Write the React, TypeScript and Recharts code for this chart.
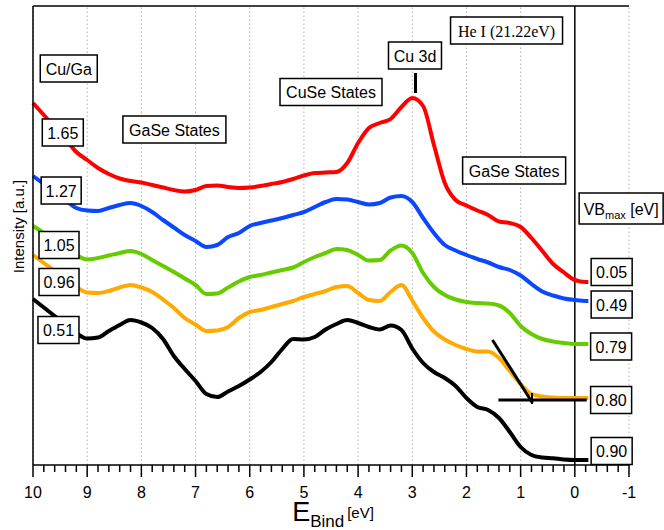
import React from "react";
import { LineChart, Line, XAxis, YAxis, ReferenceLine, ReferenceDot } from "recharts";

// binding energy grid [eV]
const energies = [
  10.0, 9.8, 9.6, 9.4, 9.2, 9.0, 8.8, 8.6, 8.4, 8.2, 8.0, 7.8, 7.6, 7.4, 7.2, 7.0, 6.8, 6.6,
  6.4, 6.2, 6.0, 5.8, 5.6, 5.4, 5.2, 5.0, 4.8, 4.6, 4.4, 4.2, 4.0, 3.8, 3.6, 3.4, 3.2, 3.0,
  2.8, 2.6, 2.4, 2.2, 2.0, 1.8, 1.6, 1.4, 1.2, 1.0, 0.8, 0.6, 0.4, 0.2, 0.0, -0.2, -0.25,
];

// He I spectra, offset intensity [a.u.], one per Cu/Ga ratio
const cuGa165 = [
  362, 350, 338, 326, 313, 305, 297, 291, 286.5, 284, 282.5, 280, 277.5, 275, 273.5, 275, 279, 279.5,
  278, 277, 277.5, 279, 281, 283, 286, 289.5, 292, 292.5, 293, 302, 322, 337, 342, 346, 358, 367,
  359, 320, 282, 265, 259.5, 254.5, 250, 243.5, 242, 238, 227, 214, 201, 192.5, 185, 183, 183,
];
const cuGa127 = [
  289, 281, 273, 265, 257, 254.5, 254, 257, 260, 262, 259, 253, 245, 237.5, 230, 224, 218, 220,
  228, 232, 239, 242, 244.5, 247, 250, 253, 258, 263, 266, 265.5, 263, 260.5, 262, 267.5, 269, 263,
  247, 232, 220, 214.5, 210, 206, 202.5, 198, 195, 189.5, 181, 173.5, 169.5, 166.5, 165, 164, 164,
];
const cuGa105 = [
  239, 232, 224.5, 217, 210, 205.5, 207, 209.5, 212, 214, 211, 205, 199, 193, 186.5, 180, 171, 171.5,
  177.5, 183.5, 188, 190, 192.5, 195, 197.5, 203, 208, 212, 216, 215, 210, 204.5, 205, 214.5, 219.5, 212,
  192, 178, 170, 165.5, 163, 162, 161.5, 159.5, 152, 139, 131, 126, 123.5, 122, 121, 121, 121,
];
const cuGa096 = [
  210, 202, 194, 186, 178, 172.5, 172, 174, 177.5, 180, 177.5, 173, 165.5, 157, 147, 140.5, 134, 134.5,
  138, 147, 153, 155, 158, 161, 164, 168, 171, 174, 178, 179, 172, 165, 164, 173, 180, 164.5,
  147, 133.5, 125.5, 120, 116, 113.5, 113.5, 107, 94, 81, 71, 68.5, 67.5, 67, 67, 67, 67,
];
const cuGa051 = [
  166, 157.5, 149, 140.5, 132, 126.5, 127.5, 134, 140, 145, 142.5, 137, 126, 109, 96, 84, 71, 68,
  73.5, 79, 85.5, 93, 103, 116, 126, 125.5, 128, 135.5, 141, 145, 142, 138, 135.5, 139.5, 135, 116.5,
  102, 93, 87, 79, 67, 58, 55, 47, 33, 18, 10, 7.5, 6.7, 5.5, 5, 5, 5,
];

const majorTicks = [10, 9, 8, 7, 6, 5, 4, 3, 2, 1, 0, -1];
// minor ticks every 0.2 eV along the energy axis
const allTicks = Array.from({ length: 56 }, (_, i) => +(10 - i * 0.2).toFixed(1));

const rows = energies.map((e, i) => ({
  e,
  r165: cuGa165[i],
  r127: cuGa127[i],
  r105: cuGa105[i],
  r096: cuGa096[i],
  r051: cuGa051[i],
}));

const series = [
  { key: "r165", color: "#ff0000" },
  { key: "r127", color: "#0a47ff" },
  { key: "r105", color: "#66cc00" },
  { key: "r096", color: "#ffaa00" },
  { key: "r051", color: "#000000" },
];

const SANS = "'Liberation Sans', Arial, sans-serif";
const SERIF = "'Liberation Serif', 'Times New Roman', serif";

// boxed text notes, placed in data coordinates
type Note = { text: string; e: number; v: number; w: number; serif?: boolean; vbm?: boolean };
const notes: Note[] = [
  { text: "Cu/Ga", e: 9.34, v: 396.5, w: 57 },
  { text: "1.65", e: 9.45, v: 332.5, w: 41 },
  { text: "1.27", e: 9.48, v: 274.5, w: 40 },
  { text: "1.05", e: 9.52, v: 220, w: 40 },
  { text: "0.96", e: 9.52, v: 183, w: 40 },
  { text: "0.51", e: 9.53, v: 135, w: 41 },
  { text: "GaSe States", e: 7.39, v: 335.5, w: 103 },
  { text: "CuSe States", e: 4.5, v: 373, w: 102 },
  { text: "Cu 3d", e: 2.95, v: 409.5, w: 53 },
  { text: "He I (21.22eV)", e: 1.26, v: 434.5, w: 112, serif: true },
  { text: "GaSe States", e: 1.12, v: 294.5, w: 103 },
  { text: "VB", e: -0.855, v: 256.5, w: 84, vbm: true },
  { text: "0.05", e: -0.68, v: 193, w: 41 },
  { text: "0.49", e: -0.68, v: 160.5, w: 41 },
  { text: "0.79", e: -0.67, v: 118.5, w: 41 },
  { text: "0.80", e: -0.67, v: 65, w: 41 },
  { text: "0.90", e: -0.68, v: 14, w: 41 },
];

const boxShape = (n: Note) => (props: any) => {
  const { cx, cy } = props;
  const h = n.vbm ? 31 : 27;
  return (
    <g>
      <rect x={cx - n.w / 2} y={cy - h / 2} width={n.w} height={h} fill="#fff" stroke="#000" strokeWidth={1.5} />
      {n.vbm ? (
        <text x={cx} y={cy + 6} textAnchor="middle" fontSize={16} fontFamily={SANS} fill="#000">
          VB
          <tspan fontSize={11} dy={4}>max</tspan>
          <tspan dy={-4}> [eV]</tspan>
        </text>
      ) : (
        <text x={cx} y={cy + 6} textAnchor="middle" fontSize={16} fontFamily={n.serif ? SERIF : SANS} fill="#000">
          {n.text}
        </text>
      )}
    </g>
  );
};

const EnergyTick = (props: any) => {
  const { x, y, payload } = props;
  const v = payload.value;
  const major = Math.abs(v - Math.round(v)) < 1e-6;
  return (
    <g>
      <line x1={x} x2={x} y1={y} y2={y + (major ? 12 : 7)} stroke="#000" strokeWidth={1.5} />
      {major && (
        <text x={x} y={y + 33} textAnchor="middle" fontSize={16} fontFamily={SANS} fill="#000">
          {Math.round(v)}
        </text>
      )}
    </g>
  );
};

const xTitle = (props: any) => {
  const vb = props.viewBox;
  return (
    <text x={vb.x + vb.width / 2 + 2} y={vb.y + 56} textAnchor="middle" fontFamily={SANS} fill="#000">
      <tspan fontSize={27}>E</tspan>
      <tspan fontSize={17} dy={6}>Bind</tspan>
      <tspan fontSize={15} dx={3} dy={-9}>[eV]</tspan>
    </text>
  );
};

const yTitle = (props: any) => {
  const vb = props.viewBox;
  const cx = vb.x + 18;
  const cy = vb.y + vb.height / 2 - 9;
  return (
    <text
      x={cx}
      y={cy}
      transform={`rotate(-90 ${cx} ${cy})`}
      textAnchor="middle"
      dominantBaseline="central"
      fontSize={15}
      fontFamily={SANS}
      fill="#000"
    >
      Intensity [a.u.]
    </text>
  );
};

export default function App() {
  return (
    <div style={{ position: "absolute", left: 0, top: 0, background: "#fff" }}>
      <LineChart width={664} height={530} data={rows} margin={{ top: 6, right: 35, bottom: 0, left: 0 }}>
        <XAxis
          dataKey="e"
          type="number"
          domain={[-1, 10]}
          reversed
          ticks={allTicks}
          interval={0}
          tickSize={0}
          tickMargin={0}
          tickLine={false}
          tick={EnergyTick}
          height={65}
          axisLine={{ stroke: "#000", strokeWidth: 1.5 }}
          label={xTitle}
        />
        <YAxis
          type="number"
          domain={[0, 459]}
          width={33}
          tick={false}
          tickLine={false}
          axisLine={{ stroke: "#000", strokeWidth: 1.5 }}
          label={yTitle}
        />
        {majorTicks
          .filter((t) => t !== 0)
          .map((t) => (
            <ReferenceLine key={t} x={t} stroke="#b0b0b0" strokeWidth={1} strokeDasharray="1.5 2.5" />
          ))}
        <ReferenceLine y={459} stroke="#000" strokeWidth={1.5} />
        <ReferenceLine x={0} stroke="#000" strokeWidth={1.5} />
        {series.map((s) => (
          <Line
            key={s.key}
            dataKey={s.key}
            type="monotone"
            stroke={s.color}
            strokeWidth={4}
            dot={false}
            activeDot={false}
            isAnimationActive={false}
          />
        ))}
        {/* Cu 3d peak marker */}
        <ReferenceLine segment={[{ x: 2.94, y: 372 }, { x: 2.94, y: 392 }]} stroke="#000" strokeWidth={3} />
        {/* leading-edge extrapolation for the 0.80 eV VBM */}
        <ReferenceLine segment={[{ x: 1.52, y: 125 }, { x: 0.78, y: 62 }]} stroke="#000" strokeWidth={3} />
        <ReferenceLine segment={[{ x: 0.79, y: 72 }, { x: 0.79, y: 61 }]} stroke="#000" strokeWidth={2} />
        <ReferenceLine segment={[{ x: 1.41, y: 65 }, { x: -0.22, y: 65 }]} stroke="#000" strokeWidth={3} />
        {notes.map((n, i) => (
          <ReferenceDot key={i} x={n.e} y={n.v} r={1} ifOverflow="visible" shape={boxShape(n)} />
        ))}
      </LineChart>
    </div>
  );
}
